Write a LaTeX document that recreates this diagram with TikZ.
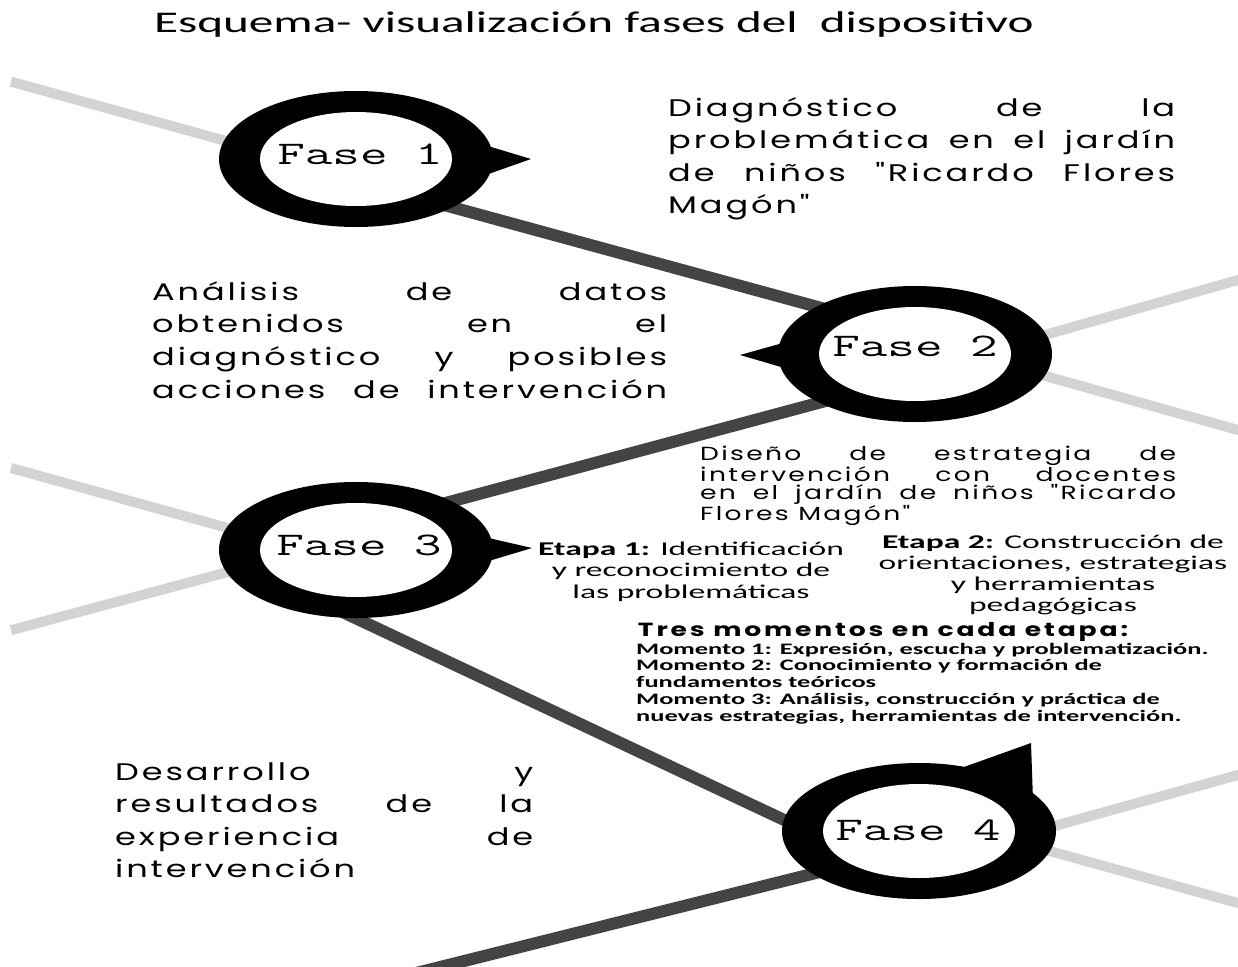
\documentclass[tikz,border=0pt]{standalone}
\usepackage{graphicx}
\usepackage{fontspec}
\setmainfont{Carlito}
\newfontfamily\titlefont[FakeStretch=1.64]{Carlito}
\newfontfamily\bodyfont[FakeStretch=1.4,LetterSpace=12]{Poppins}
\newfontfamily\etapafont[FakeStretch=1.72]{Carlito}
\newfontfamily\momfont[FakeStretch=1.65]{Carlito}
\newfontfamily\tresfont[FakeStretch=1.4,LetterSpace=15]{Poppins}
\newcommand{\jline}[2]{\makebox[#1][s]{#2}}
\newcommand{\fasetext}[1]{{\fontsize{33}{40}\selectfont\ttfamily\scalebox{1.62}[1]{#1}}}
\definecolor{lightline}{HTML}{D3D3D3}
\definecolor{darkline}{HTML}{444444}
\begin{document}
\begin{tikzpicture}[x=1pt,y=-1pt,
  lightseg/.style={line width=10pt, draw=lightline},
  darkseg/.style={line width=12pt, draw=darkline},
  outerring/.style={fill=black},
  innerring/.style={fill=white},
  pointer/.style={fill=black},
  faselabel/.style={anchor=base, inner sep=0pt},
  txt/.style={inner sep=0pt}]
\useasboundingbox (0,0) rectangle (1238,966);
\fill[white] (0,0) rectangle (1238,966);
% ring centres
\coordinate (c1) at (356,159);
\coordinate (c2) at (915,354);
\coordinate (c3) at (356,550);
\coordinate (c4) at (919,831);
% line end points
\coordinate (l1a) at (11,81.7);
\coordinate (l1b) at (300,161.4);
\coordinate (l2a) at (915,372);
\coordinate (l2b) at (1245,278);
\coordinate (l3a) at (915,339.4);
\coordinate (l3b) at (1245,432);
\coordinate (l4a) at (11,468);
\coordinate (l4b) at (356,563.5);
\coordinate (l5a) at (11,630.2);
\coordinate (l5b) at (356,537.6);
\coordinate (l6a) at (919,863.6);
\coordinate (l6b) at (1245,773);
\coordinate (l7a) at (919,815);
\coordinate (l7b) at (1245,905);
\coordinate (d1a) at (356,181);
\coordinate (d1b) at (915,333.5);
\coordinate (d2a) at (356,527);
\coordinate (d2b) at (915,377);
\coordinate (d3a) at (330,606.1);
\coordinate (d3b) at (850,851);
\coordinate (d4a) at (919,847.2);
\coordinate (d4b) at (400,977);
\begin{scope}
\clip (0,0) rectangle (1238,966);
\draw[lightseg] (l1a) -- (l1b);
\draw[lightseg] (l2a) -- (l2b);
\draw[lightseg] (l3a) -- (l3b);
\draw[lightseg] (l4a) -- (l4b);
\draw[lightseg] (l5a) -- (l5b);
\draw[lightseg] (l6a) -- (l6b);
\draw[lightseg] (l7a) -- (l7b);
\draw[darkseg] (d1a) -- (d1b);
\draw[darkseg] (d2a) -- (d2b);
\draw[darkseg] (d3a) -- (d3b);
\draw[darkseg] (d4a) -- (d4b);
\end{scope}
% rings
\foreach \c in {c1,c2,c3,c4} {
  \fill[outerring] (\c) ellipse [x radius=137pt, y radius=68pt];
}
\fill[pointer] (478,143) -- (531,159) -- (480,177) -- cycle;
\fill[pointer] (790,341) -- (740,355) -- (788,369) -- cycle;
\fill[pointer] (480,536) -- (532,548) -- (482,563) -- cycle;
\fill[pointer] (950,772) -- (1031,743) -- (1033,800) -- cycle;
\foreach \c in {c1,c2,c3,c4} {
  \fill[innerring] (\c) ellipse [x radius=96pt, y radius=47pt];
}
\node[faselabel] (f1) at (360,164) {\fasetext{Fase 1}};
\node[faselabel] (f2) at (915,356.7) {\fasetext{Fase 2}};
\node[faselabel] (f3) at (359,555) {\fasetext{Fase 3}};
\node[faselabel] (f4) at (918,840) {\fasetext{Fase 4}};
% title
\node[anchor=base, inner sep=0pt, font=\titlefont\fontsize{30}{36}\selectfont] (title) at (594,33) {Esquema- visualización fases del\ \ dispositivo};
% text blocks
\node[txt, anchor=base west] (diag) at (668,116) {\bodyfont\fontsize{24}{32.5}\selectfont\parbox[t]{507pt}{%
\jline{507pt}{Diagnóstico de la}\\
\jline{507pt}{problemática en el jardín}\\
\jline{507pt}{de niños "Ricardo Flores}\\
Magón"}};
\node[txt, anchor=base west] (analisis) at (152,300) {\bodyfont\fontsize{24}{32.7}\selectfont\parbox[t]{515pt}{%
\jline{515pt}{Análisis de datos}\\
\jline{515pt}{obtenidos en el}\\
\jline{515pt}{diagnóstico y posibles}\\
\jline{515pt}{acciones de intervención}}};
\node[txt, anchor=base west] (diseno) at (700,460) {\bodyfont\fontsize{19}{18.3}\selectfont\parbox[t]{476pt}{%
\jline{476pt}{Diseño de estrategia de}\\
\jline{476pt}{intervención con docentes}\\
\jline{476pt}{en el jardín de niños "Ricardo}\\
Flores Magón"}};
\node[txt, anchor=base] (etapa1) at (691,555) {\etapafont\fontsize{19.5}{21.5}\selectfont\parbox[t]{360pt}{\centering
{\bfseries Etapa 1:} Identificación\\
y reconocimiento de\\
las problemáticas}};
\node[txt, anchor=base] (etapa2) at (1053,548) {\etapafont\fontsize{19.5}{21.2}\selectfont\parbox[t]{380pt}{\centering
{\bfseries Etapa 2:} Construcción de\\
orientaciones, estrategias\\
y herramientas\\
pedagógicas}};
\node[txt, anchor=base] (tres) at (883,636.5) {\tresfont\bfseries\fontsize{19}{22}\selectfont Tres momentos en cada etapa:};
\node[txt, anchor=base west] (momentos) at (636,654) {\momfont\bfseries\fontsize{16}{16.8}\selectfont\parbox[t]{600pt}{\raggedright
Momento 1: Expresión, escucha y problematización.\\
Momento 2: Conocimiento y formación de\\
fundamentos teóricos\\
Momento 3: Análisis, construcción y práctica de\\
nuevas estrategias, herramientas de intervención.}};
\node[txt, anchor=base west] (desarrollo) at (115,780) {\bodyfont\fontsize{24}{32.5}\selectfont\parbox[t]{418pt}{%
\jline{418pt}{Desarrollo y}\\
\jline{418pt}{resultados de la}\\
\jline{418pt}{experiencia de}\\
intervención}};
\end{tikzpicture}
\end{document}
